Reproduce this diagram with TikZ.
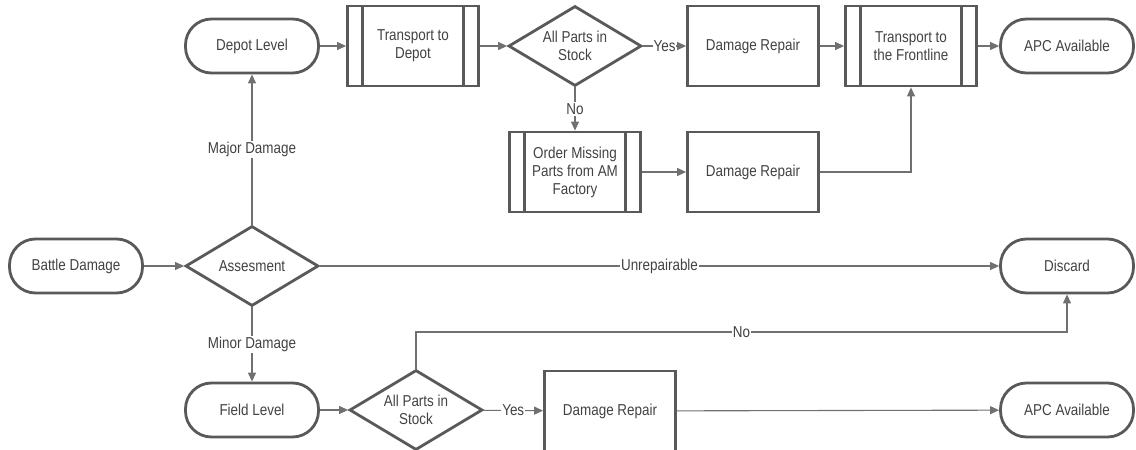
\documentclass[tikz,border=0pt]{standalone}
\usepackage{fontspec}
\setmainfont[FakeStretch=0.85]{Liberation Sans}
\usetikzlibrary{shapes.geometric,arrows.meta,calc}
\definecolor{stroke}{HTML}{595959}
\definecolor{txt}{HTML}{424242}
\definecolor{conncol}{HTML}{707070}
\begin{document}
\begin{tikzpicture}[x=1pt,y=-1pt,
  every node/.style={font=\fontsize{15.8}{18}\selectfont, text=txt, align=center},
  term/.style={draw=stroke, line width=2.8pt, rounded corners=26pt, minimum width=133pt, minimum height=54pt, inner sep=0pt},
  proc/.style={draw=stroke, line width=2.8pt, minimum width=131pt, minimum height=80pt, inner sep=0pt},
  pproc/.style={proc, path picture={\draw[stroke, line width=2.8pt]
      ([xshift=15pt]path picture bounding box.north west) -- ([xshift=15pt]path picture bounding box.south west)
      ([xshift=-15pt]path picture bounding box.north east) -- ([xshift=-15pt]path picture bounding box.south east);}},
  dec/.style={draw=stroke, line width=2.8pt, diamond, aspect=1.66, minimum width=133pt, minimum height=80pt, inner sep=0pt},
  conn/.style={draw=conncol, line width=1.1pt, -{Triangle[length=9pt,width=8pt]}},
  lab/.style={fill=white, inner sep=1pt}
]
\useasboundingbox (0,0) rectangle (1136,450);
% nodes
\node[term] (battle) at (76,266) {Battle Damage};
\node[dec] (assess) at (252,266) {Assesment};
\node[term] (depot) at (252,46) {Depot Level};
\node[pproc] (tdepot) at (413,46) {Transport to\\Depot};
\node[dec] (stock1) at (575,46) {All Parts in\\Stock};
\node[pproc] (order) at (575,172) {Order Missing\\Parts from AM\\Factory};
\node[proc] (rep1) at (753,46) {Damage Repair};
\node[proc] (rep2) at (753,172) {Damage Repair};
\node[pproc] (tfront) at (911,46) {Transport to\\the Frontline};
\node[term] (apc1) at (1067,46) {APC Available};
\node[term] (discard) at (1067,266) {Discard};
\node[term] (field) at (252,410) {Field Level};
\node[dec] (stock2) at (416,410) {All Parts in\\Stock};
\node[proc] (rep3) at (610,411) {Damage Repair};
\node[term] (apc2) at (1067,410) {APC Available};
\coordinate (nocorner) at (1067,332);
% connectors
\draw[conn] (battle) -- (assess);
\draw[conn] (assess) -- node[lab]{Major Damage} (depot);
\draw[conn] (assess) -- node[lab]{Minor Damage} (field);
\draw[conn] (assess) -- node[lab]{Unrepairable} (discard);
\draw[conn] (depot) -- (tdepot);
\draw[conn] (tdepot) -- (stock1);
\draw[conn] (stock1) -- node[lab]{Yes} (rep1);
\draw[conn] (stock1) -- node[lab]{No} (order);
\draw[conn] (rep1) -- (tfront);
\draw[conn] (order) -- (rep2);
\draw[conn] (rep2) -| (tfront);
\draw[conn] (tfront) -- (apc1);
\draw[conn] (field) -- (stock2);
\draw[conn] (stock2) -- node[lab]{Yes} (rep3);
\draw[conn] (rep3) -- (apc2);
\draw[conn] (stock2.north) |- node[lab,pos=0.75]{No} (nocorner) -- (discard.south);
\end{tikzpicture}
\end{document}
